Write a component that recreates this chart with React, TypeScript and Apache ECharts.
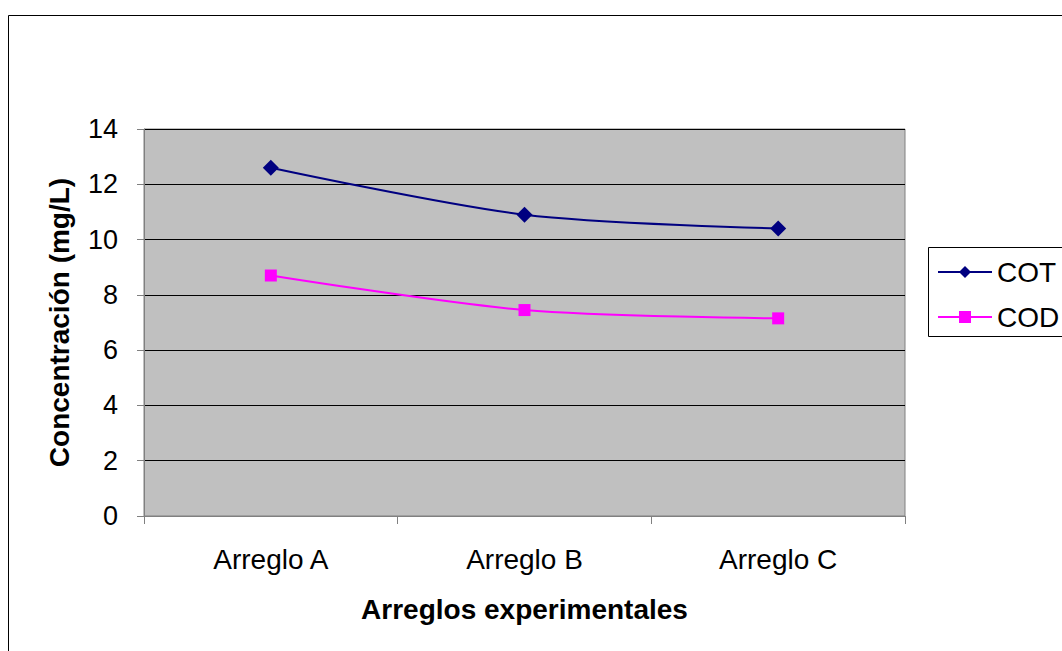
import React, { useEffect, useRef } from "react";
import * as echarts from "echarts";

const categories = ["Arreglo A", "Arreglo B", "Arreglo C"];
const cotValues = [12.6, 10.9, 10.4];
const codValues = [8.7, 7.45, 7.15];
const seriesNames = ["COT", "COD"];
const yTitle = "Concentración (mg/L)";
const xTitle = "Arreglos experimentales";

const FONT = "Liberation Sans, Arial, sans-serif";

export default function App() {
  const ref = useRef<HTMLDivElement>(null);
  useEffect(() => {
    if (!ref.current) return;
    const chart = echarts.init(ref.current, null, { renderer: "svg" });
    chart.setOption({
      animation: false,
      backgroundColor: "#ffffff",
      textStyle: { fontFamily: FONT },
      graphic: [
        {
          type: "rect",
          shape: { x: 8.5, y: 15.5, width: 1100, height: 700 },
          style: { fill: "none", stroke: "#000", lineWidth: 1 },
          silent: true,
        },
        {
          type: "rect",
          shape: { x: 928.5, y: 247.5, width: 200, height: 89 },
          style: { fill: "none", stroke: "#000", lineWidth: 1 },
          silent: true,
        },
      ],
      legend: {
        orient: "vertical",
        left: 937,
        top: 257,
        itemWidth: 54,
        itemHeight: 15,
        itemGap: 15,
        padding: 0,
        textStyle: { fontSize: 28, color: "#000", fontFamily: FONT, lineHeight: 30, padding: [0, 0, 0, 0] },
        data: seriesNames,
      },
      grid: {
        left: 144,
        right: 157,
        top: 129,
        bottom: 135,
        show: true,
        backgroundColor: "#C0C0C0",
        borderColor: "#808080",
        borderWidth: 1,
      },
      xAxis: {
        type: "category",
        data: categories,
        boundaryGap: true,
        name: xTitle,
        nameLocation: "middle",
        nameGap: 79,
        nameTextStyle: { fontSize: 28, fontWeight: "bold", color: "#000", fontFamily: FONT },
        axisLine: { show: true, lineStyle: { color: "#808080", width: 1 } },
        axisTick: { show: true, length: 8, lineStyle: { color: "#808080" } },
        axisLabel: { fontSize: 28, color: "#000", margin: 29, fontFamily: FONT },
        splitLine: { show: false },
      },
      yAxis: {
        type: "value",
        min: 0,
        max: 14,
        interval: 2,
        name: yTitle,
        nameLocation: "middle",
        nameGap: 71,
        nameTextStyle: { fontSize: 28, fontWeight: "bold", color: "#000", fontFamily: FONT },
        axisLine: { show: true, lineStyle: { color: "#808080", width: 1 } },
        axisTick: { show: true, length: 7, lineStyle: { color: "#808080" } },
        axisLabel: { fontSize: 27, color: "#000", margin: 26, fontFamily: FONT },
        splitLine: { show: true, lineStyle: { color: "#000", width: 1 } },
      },
      series: [
        {
          name: seriesNames[0],
          type: "line",
          data: cotValues,
          smooth: 0.3,
          symbol: "diamond",
          symbolSize: 16,
          itemStyle: { color: "#000080" },
          lineStyle: { color: "#000080", width: 2 },
        },
        {
          name: seriesNames[1],
          type: "line",
          data: codValues,
          smooth: 0.3,
          symbol: "rect",
          symbolSize: 12,
          itemStyle: { color: "#FF00FF" },
          lineStyle: { color: "#FF00FF", width: 2 },
        },
      ],
    });
    return () => chart.dispose();
  }, []);
  return (
    <div
      ref={ref}
      style={{ position: "fixed", left: 0, top: 0, width: 1062, height: 651 }}
    />
  );
}
